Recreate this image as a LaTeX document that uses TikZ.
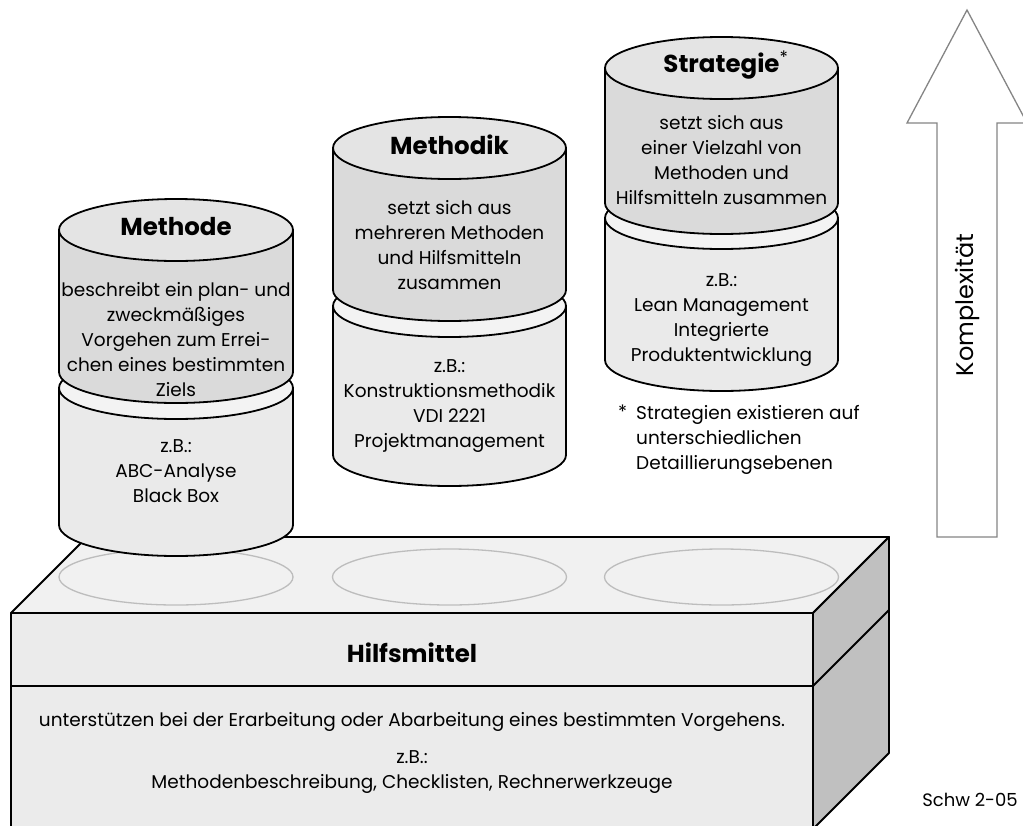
\documentclass[tikz,border=0pt]{standalone}
\usepackage{fontspec}
\setmainfont{Poppins}
\definecolor{capgray}{HTML}{E4E4E4}
\definecolor{uppergray}{HTML}{DADADA}
\definecolor{lowergray}{HTML}{EAEAEA}
\definecolor{seamgray}{HTML}{F3F3F3}
\definecolor{boxfront}{HTML}{EBEBEB}
\definecolor{boxtop}{HTML}{F1F1F1}
\definecolor{boxside}{HTML}{C0C0C0}
\definecolor{ringgray}{HTML}{BDBDBD}
\definecolor{arrowgray}{HTML}{858585}

% one two-part drum: centre x, half width, y of the top cap, y of the upper
% part's bottom, y of the lower part's top, y of the lower part's bottom
\newcommand\drawdrum[6]{%
  \filldraw[outline, fill=lowergray] ({#1-#2},#5) -- ({#1-#2},#6)
    arc[start angle=180, end angle=0, x radius=#2, y radius=31] -- ({#1+#2},#5) -- cycle;
  \filldraw[outline, fill=seamgray] (#1,#5) ellipse[x radius=#2, y radius=31];
  \filldraw[outline, fill=uppergray] ({#1-#2},#3) -- ({#1-#2},#4)
    arc[start angle=180, end angle=0, x radius=#2, y radius=31] -- ({#1+#2},#3) -- cycle;
  \filldraw[outline, fill=capgray] (#1,#3) ellipse[x radius=#2, y radius=31];
}

\begin{document}
\begin{tikzpicture}[x=1pt, y=-1pt,
  outline/.style={draw=black, line width=1.8pt, line join=round},
  ring/.style={draw=ringgray, line width=1.3pt},
  txt/.style={font=\fontsize{18.5}{25}\selectfont, align=center, inner sep=0pt},
  ttl/.style={font=\fontsize{24.5}{28}\selectfont\bfseries, inner sep=0pt},
  arrowshape/.style={draw=arrowgray, line width=1.3pt, fill=white, line join=miter}]
\useasboundingbox (0,0) rectangle (1023,825);

% ---- base block: Hilfsmittel ----
\filldraw[outline, fill=boxtop] (11,613) -- (87,537) -- (889,537) -- (813,613) -- cycle;
\filldraw[outline, fill=boxside] (813,613) -- (889,537) -- (889,753) -- (813,829) -- cycle;
\filldraw[outline, fill=boxfront] (11,613) rectangle (813,840);
\draw[outline] (11,686) -- (813,686);
\draw[outline] (813,686) -- (889,610);

\draw[ring] (176,577) ellipse[x radius=117, y radius=28];
\draw[ring] (449.5,577) ellipse[x radius=117, y radius=28];
\draw[ring] (721.5,577) ellipse[x radius=117, y radius=28];

\node[ttl] (hilfs) at (412,653) {Hilfsmittel};
\node[txt] (hilfsdesc) at (412,722) {unterstützen bei der Erarbeitung oder Abarbeitung eines bestimmten Vorgehens.};
\node[txt] (hilfsex) at (412,772) {z.B.:\\Methodenbeschreibung, Checklisten, Rechnerwerkzeuge};

% ---- drums ----
\drawdrum{176}{117}{230}{372}{388}{525}
\drawdrum{449.5}{116.5}{148}{290}{306}{455}
\drawdrum{721.5}{116.5}{68}{203}{218}{360}

\node[ttl] (methode) at (176,227) {Methode};
\node[txt] (methodedesc) at (176,340) {beschreibt ein plan- und\\zweckmäßiges\\Vorgehen zum Errei-\\chen eines bestimmten\\Ziels};
\node[txt] (methodeex) at (176,471) {z.B.:\\ABC-Analyse\\Black Box};

\node[ttl] (methodik) at (449.5,145) {Methodik};
\node[txt] (methodikdesc) at (449.5,245) {setzt sich aus\\mehreren Methoden\\und Hilfsmitteln\\zusammen};
\node[txt] (methodikex) at (449.5,406) {z.B.:\\Konstruktionsmethodik\\VDI 2221\\Projektmanagement};

\node[ttl] (strategie) at (721.5,65) {Strategie\rlap{\textsuperscript{\mdseries *}}};
\node[txt] (strategiedesc) at (721.5,160) {setzt sich aus\\einer Vielzahl von\\Methoden und\\Hilfsmitteln zusammen};
\node[txt] (strategieex) at (721.5,320) {z.B.:\\Lean Management\\Integrierte\\Produktentwicklung};

\node[txt, anchor=north west] (footstar) at (618,405) {*};
\node[txt, anchor=north west, align=left] (footnote) at (636,405) {Strategien existieren auf\\unterschiedlichen\\Detaillierungsebenen};

% ---- complexity arrow ----
\filldraw[arrowshape] (937,537) -- (937,123) -- (907,123) -- (967,10) -- (1027,123)
  -- (997,123) -- (997,537) -- cycle;
\node[txt, font=\fontsize{24}{27}\selectfont, rotate=90] (komplex) at (967,305) {Komplexität};

\node[txt, font=\fontsize{18}{20}\selectfont] (code) at (970,800) {Schw 2-05};
\end{tikzpicture}
\end{document}
